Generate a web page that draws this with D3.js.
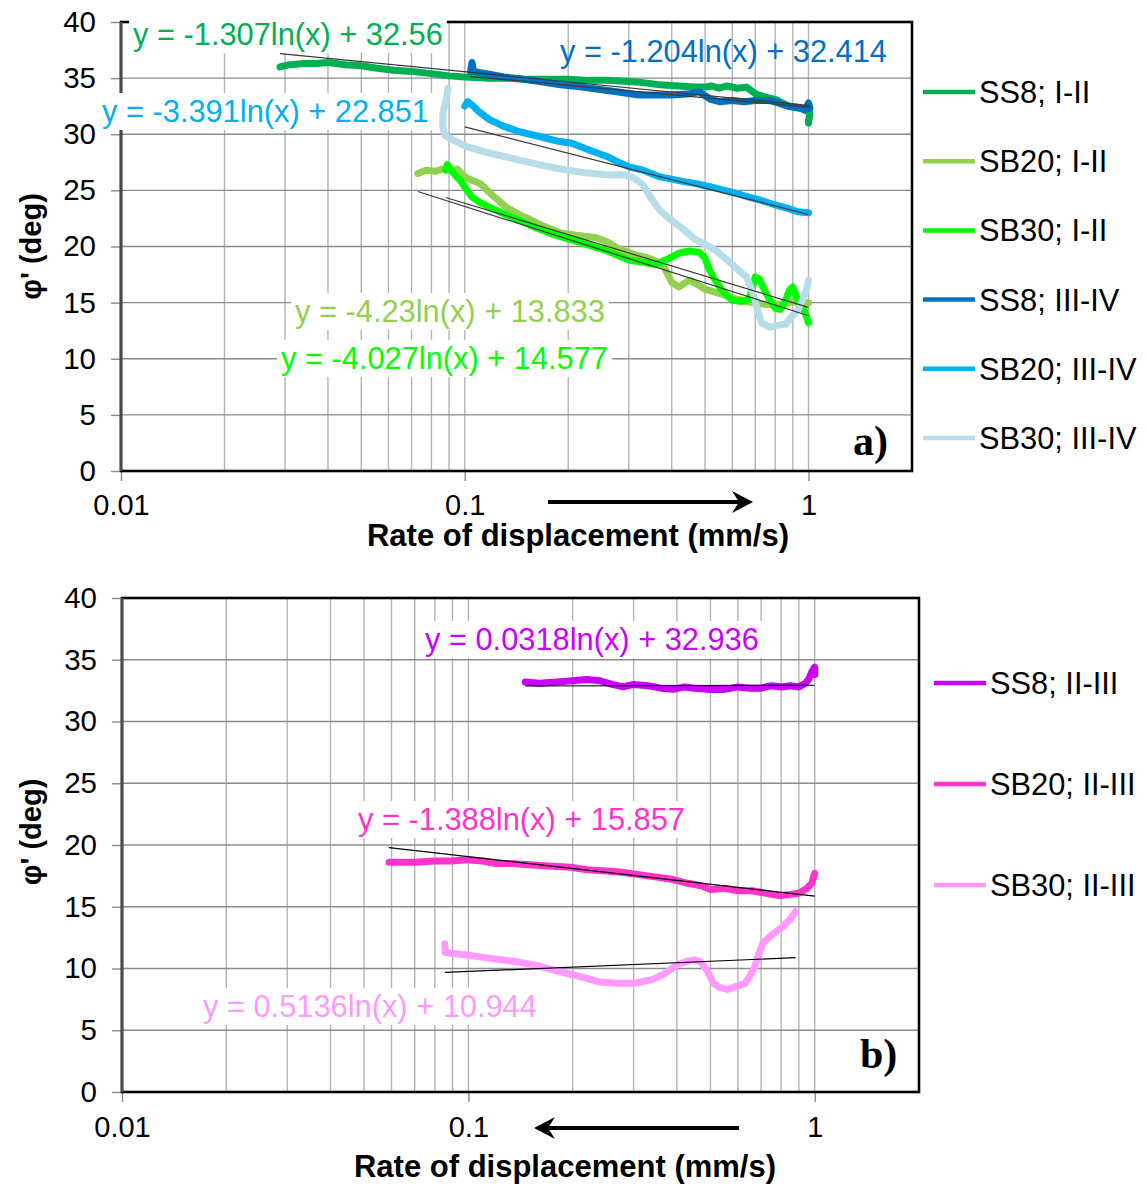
<!DOCTYPE html>
<html>
<head>
<meta charset="utf-8">
<script src="https://cdn.jsdelivr.net/npm/d3@7"></script>
<style>
  body { margin: 0; background: #fff; }
</style>
</head>
<body>
<svg id="chart" width="1147" height="1187"></svg>
<script>
// ---------- axis values ----------
const rateTicks = [0.01, 0.1, 1];
const phiTicks = [0, 5, 10, 15, 20, 25, 30, 35, 40];

// ---------- panel a: stages I-II and III-IV ----------
const namesA = ["SS8; I-II", "SB20; I-II", "SB30; I-II", "SS8; III-IV", "SB20; III-IV", "SB30; III-IV"];
const colorsA = ["#00b050", "#92d050", "#00ff00", "#0070c0", "#00b0f0", "#b7dee8"];

const ss8_I_II = [[0.029,36.0],[0.031,36.2],[0.034,36.3],[0.037,36.3],[0.04,36.4],[0.045,36.2],[0.05,36.1],[0.055,35.9],[0.062,35.7],[0.07,35.6],[0.08,35.4],[0.09,35.2],[0.1,35.1],[0.115,35.0],[0.13,35.0],[0.15,34.9],[0.17,34.9],[0.2,34.9],[0.23,34.8],[0.26,34.8],[0.3,34.7],[0.33,34.6],[0.37,34.4],[0.42,34.3],[0.47,34.2],[0.5,34.2],[0.52,34.3],[0.55,34.1],[0.58,34.3],[0.62,34.1],[0.66,34.2],[0.7,33.6],[0.75,33.3],[0.8,33.1],[0.85,32.7],[0.9,32.4],[0.95,32.3],[0.98,32.1],[1.0,32.5],[1.01,31.8],[1.0,31.2],[1.0,31.0]];
const sb20_I_II = [[0.073,26.5],[0.077,26.8],[0.082,26.7],[0.086,26.9],[0.089,27.0],[0.092,26.7],[0.095,26.9],[0.1,26.2],[0.105,25.9],[0.111,25.6],[0.12,24.6],[0.132,23.5],[0.145,22.8],[0.155,22.4],[0.17,21.8],[0.19,21.2],[0.21,21.0],[0.24,20.8],[0.26,20.4],[0.28,19.8],[0.31,19.3],[0.34,19.0],[0.36,18.7],[0.38,18.2],[0.4,16.8],[0.42,16.4],[0.45,17.0],[0.47,16.7],[0.5,16.2],[0.54,15.9],[0.58,15.6],[0.62,15.3],[0.66,15.1],[0.72,14.9],[0.78,14.8],[0.84,14.9],[0.9,15.1],[0.95,15.0],[1.0,15.0]];
const sb30_I_II = [[0.088,26.8],[0.089,27.3],[0.091,26.9],[0.094,26.3],[0.097,25.9],[0.1,25.3],[0.105,24.4],[0.111,23.9],[0.118,23.5],[0.13,22.9],[0.145,22.3],[0.155,21.9],[0.18,21.1],[0.22,20.3],[0.26,19.6],[0.3,18.8],[0.33,18.6],[0.36,18.4],[0.39,18.9],[0.42,19.4],[0.45,19.6],[0.48,19.5],[0.5,19.0],[0.51,18.2],[0.53,17.2],[0.56,16.1],[0.6,15.2],[0.64,15.1],[0.67,15.3],[0.69,16.5],[0.7,17.3],[0.72,17.1],[0.74,16.3],[0.76,15.6],[0.8,14.5],[0.83,14.4],[0.86,15.3],[0.88,16.1],[0.9,16.4],[0.92,15.6],[0.94,14.7],[0.97,14.4],[0.99,13.6],[1.0,13.2]];
const ss8_III_IV = [[0.104,35.6],[0.105,36.4],[0.106,35.6],[0.11,35.5],[0.12,35.3],[0.13,35.1],[0.14,35.0],[0.165,34.7],[0.19,34.4],[0.22,34.2],[0.26,33.9],[0.29,33.7],[0.32,33.5],[0.36,33.5],[0.4,33.5],[0.45,33.6],[0.48,33.8],[0.52,33.1],[0.55,32.9],[0.6,33.0],[0.65,32.9],[0.7,33.0],[0.78,33.0],[0.87,32.5],[0.93,32.4],[0.98,32.2],[1.0,32.8],[1.01,32.3]];
const sb20_III_IV = [[0.1,32.5],[0.102,32.9],[0.105,32.6],[0.11,32.0],[0.118,31.3],[0.13,30.7],[0.145,30.2],[0.165,29.8],[0.185,29.4],[0.205,29.2],[0.23,28.6],[0.26,28.0],[0.28,27.5],[0.3,27.1],[0.33,26.8],[0.37,26.2],[0.4,26.0],[0.43,25.8],[0.47,25.6],[0.52,25.3],[0.57,25.0],[0.62,24.7],[0.67,24.4],[0.73,24.1],[0.8,23.7],[0.87,23.4],[0.93,23.1],[1.0,23.0]];
const sb30_III_IV = [[0.0893,34.1],[0.0885,33.2],[0.0865,32.0],[0.0862,30.8],[0.0875,29.9],[0.0923,29.5],[0.1013,28.9],[0.115,28.4],[0.144,27.7],[0.17,27.2],[0.19,26.9],[0.22,26.6],[0.26,26.4],[0.29,26.4],[0.31,26.1],[0.33,25.5],[0.35,24.2],[0.37,23.2],[0.4,22.3],[0.43,21.6],[0.47,20.6],[0.5,20.2],[0.54,19.6],[0.58,18.8],[0.62,18.0],[0.66,17.3],[0.69,15.8],[0.71,14.4],[0.73,13.2],[0.77,12.8],[0.82,13.0],[0.86,13.1],[0.89,13.7],[0.93,14.3],[0.96,15.2],[0.99,16.3],[1.0,17.0]];

// logarithmic trendlines y = a ln(x) + b (null = no fit shown)
const slopeA = [-1.307, -4.23, -4.027, -1.204, -3.391, null];
const interceptA = [32.56, 13.833, 14.577, 32.414, 22.851, null];

// ---------- panel b: stage II-III ----------
const namesB = ["SS8; II-III", "SB20; II-III", "SB30; II-III"];
const colorsB = ["#cc00ff", "#ff33cc", "#ff99ff"];

const ss8_II_III = [[0.146,33.2],[0.16,33.1],[0.18,33.2],[0.2,33.3],[0.22,33.4],[0.24,33.3],[0.26,33.0],[0.28,32.8],[0.3,33.0],[0.33,32.9],[0.36,32.7],[0.39,32.6],[0.42,32.8],[0.45,32.7],[0.5,32.6],[0.55,32.6],[0.6,32.8],[0.65,32.7],[0.7,32.7],[0.75,32.9],[0.8,32.8],[0.85,32.9],[0.9,32.8],[0.94,33.1],[0.96,33.4],[0.98,34.0],[1.0,34.4],[1.0,33.8]];
const sb20_II_III = [[0.059,18.6],[0.07,18.6],[0.08,18.7],[0.09,18.7],[0.098,18.8],[0.11,18.7],[0.12,18.5],[0.133,18.5],[0.15,18.4],[0.17,18.3],[0.197,18.2],[0.22,18.0],[0.25,17.9],[0.277,17.8],[0.31,17.6],[0.35,17.4],[0.39,17.2],[0.43,16.9],[0.47,16.7],[0.5,16.4],[0.55,16.5],[0.6,16.3],[0.66,16.3],[0.72,16.1],[0.79,15.9],[0.85,16.0],[0.9,16.1],[0.95,16.5],[0.98,16.9],[1.0,17.7]];
const sb30_II_III = [[0.0855,12.0],[0.0858,11.3],[0.092,11.2],[0.099,11.1],[0.11,10.9],[0.125,10.7],[0.141,10.5],[0.16,10.2],[0.18,9.8],[0.2,9.5],[0.22,9.2],[0.24,8.9],[0.27,8.8],[0.3,8.8],[0.34,9.1],[0.37,9.6],[0.4,10.3],[0.43,10.6],[0.45,10.7],[0.47,10.5],[0.49,9.8],[0.51,8.8],[0.53,8.5],[0.56,8.3],[0.6,8.6],[0.63,8.8],[0.65,9.4],[0.67,10.1],[0.69,11.2],[0.71,12.1],[0.75,12.7],[0.81,13.4],[0.85,14.0],[0.88,14.6]];

const slopeB = [0.0318, -1.388, 0.5136];
const interceptB = [32.936, 15.857, 10.944];

// ---------- drawing ----------
const SANS = "'Liberation Sans', Arial, sans-serif";
const SERIF = "'Liberation Serif', 'Times New Roman', serif";
const svg = d3.select("#chart");

function drawPanel(cfg) {
  const g = svg.append("g");
  const x = d3.scaleLog().domain([0.01, 2]).range([cfg.left, cfg.right]);
  const y = d3.scaleLinear().domain([0, 40]).range([cfg.bottom, cfg.top]);

  // gridlines: vertical at every log subdivision, horizontal at every 5 deg
  g.append("g").selectAll("line")
    .data(x.ticks().filter(v => v > 0.0101 && v < 1.99))
    .join("line")
    .attr("x1", d => x(d)).attr("x2", d => x(d))
    .attr("y1", cfg.top).attr("y2", cfg.bottom)
    .attr("stroke", "#b4b4b4").attr("stroke-width", 1.4);
  g.append("g").selectAll("line")
    .data(phiTicks.filter(v => v > 0 && v < 40))
    .join("line")
    .attr("x1", cfg.left).attr("x2", cfg.right)
    .attr("y1", d => y(d)).attr("y2", d => y(d))
    .attr("stroke", "#8c8c8c").attr("stroke-width", 1.4);

  // y axis ticks and labels
  const ya = g.append("g").attr("transform", `translate(${cfg.left},0)`)
    .call(d3.axisLeft(y).tickValues(phiTicks).tickSize(10).tickPadding(15));
  ya.select(".domain").remove();
  ya.selectAll(".tick line").attr("stroke", "#8c8c8c").attr("stroke-width", 1.4);
  ya.attr("font-size", 29.5).attr("font-family", SANS);
  ya.selectAll("text").attr("fill", "#000");

  // x axis ticks and labels
  const xa = g.append("g").attr("transform", `translate(0,${cfg.bottom})`)
    .call(d3.axisBottom(x).tickValues(rateTicks).tickFormat(d => String(d)).tickSize(10).tickPadding(cfg.xPad));
  xa.select(".domain").remove();
  xa.selectAll(".tick line").attr("stroke", "#8c8c8c").attr("stroke-width", 1.4);
  xa.attr("font-size", 29).attr("font-family", SANS);
  xa.selectAll("text").attr("fill", "#000");

  // plot frame
  g.append("rect")
    .attr("x", cfg.left).attr("y", cfg.top)
    .attr("width", cfg.right - cfg.left).attr("height", cfg.bottom - cfg.top)
    .attr("fill", "none").attr("stroke", "#000").attr("stroke-width", 2.6);
  g.append("line")
    .attr("x1", cfg.left).attr("x2", cfg.left).attr("y1", cfg.top).attr("y2", cfg.bottom)
    .attr("stroke", "#4a4a4a").attr("stroke-width", 2.6);

  // measured curves
  const line = d3.line().x(d => x(d[0])).y(d => y(d[1]));
  cfg.series.forEach((s, i) => {
    g.append("path").datum(s)
      .attr("d", line)
      .attr("fill", "none")
      .attr("stroke", cfg.colors[i])
      .attr("stroke-width", 7)
      .attr("stroke-linejoin", "round")
      .attr("stroke-linecap", "round");
  });

  // logarithmic trendlines (straight on a log axis) over each curve's range
  cfg.series.forEach((s, i) => {
    const a = cfg.slopes[i], b = cfg.intercepts[i];
    if (a === null) return;
    const [x0, x1] = d3.extent(s, d => d[0]);
    const ends = [x0, x1].map(v => [v, a * Math.log(v) + b]);
    g.append("path").datum(ends)
      .attr("d", line)
      .attr("fill", "none")
      .attr("stroke", cfg.trendColor)
      .attr("stroke-width", 1.2);
  });

  // equation labels
  cfg.labels.forEach(lb => {
    const i = lb.series;
    const a = cfg.slopes[i], b = cfg.intercepts[i];
    const lg = g.append("g");
    const t = lg.append("text")
      .attr("x", lb.x).attr("y", lb.y)
      .attr("font-family", SANS).attr("font-size", 30.8)
      .attr("fill", cfg.colors[i])
      .text(`y = ${a}ln(x) + ${b}`);
    if (lb.box) {
      const bb = t.node().getBBox();
      lg.insert("rect", "text")
        .attr("x", bb.x - 4).attr("y", bb.y - 1)
        .attr("width", bb.width + 8).attr("height", bb.height + 2)
        .attr("fill", "#fff");
    }
  });

  // legend
  const lgd = g.append("g");
  cfg.names.forEach((n, i) => {
    const ly = cfg.legend.y0 + i * cfg.legend.step;
    lgd.append("line")
      .attr("x1", cfg.legend.x).attr("x2", cfg.legend.x + 52)
      .attr("y1", ly).attr("y2", ly)
      .attr("stroke", cfg.colors[i]).attr("stroke-width", 4.5);
    lgd.append("text")
      .attr("x", cfg.legend.x + 56).attr("y", ly + 11)
      .attr("font-family", SANS).attr("font-size", 30.8).attr("fill", "#000")
      .text(n);
  });

  // axis titles
  g.append("text")
    .attr("transform", `translate(${cfg.yTitle.x},${(cfg.top + cfg.bottom) / 2 + cfg.yTitle.dy}) rotate(-90)`)
    .attr("text-anchor", "middle")
    .attr("font-family", SANS).attr("font-size", 29).attr("font-weight", "bold")
    .text("φ' (deg)");
  g.append("text")
    .attr("x", cfg.xTitle.x).attr("y", cfg.xTitle.y)
    .attr("text-anchor", "middle")
    .attr("font-family", SANS).attr("font-size", 31).attr("font-weight", "bold")
    .text("Rate of displacement (mm/s)");

  // direction of the rate change
  const ar = cfg.arrow;
  const dir = Math.sign(ar.x2 - ar.x1);
  g.append("line")
    .attr("x1", ar.x1).attr("x2", ar.x2 - dir * 8)
    .attr("y1", ar.y).attr("y2", ar.y)
    .attr("stroke", "#000").attr("stroke-width", 4);
  g.append("path")
    .attr("d", `M${ar.x2},${ar.y} L${ar.x2 - dir * 21},${ar.y - 11} L${ar.x2 - dir * 14},${ar.y} L${ar.x2 - dir * 21},${ar.y + 11} Z`)
    .attr("fill", "#000");

  // panel tag
  g.append("text")
    .attr("x", cfg.tag.x).attr("y", cfg.tag.y)
    .attr("font-family", SERIF).attr("font-size", 42).attr("font-weight", "bold")
    .text(cfg.tag.text);
}

drawPanel({
  left: 121, right: 912, top: 22, bottom: 471,
  series: [ss8_I_II, sb20_I_II, sb30_I_II, ss8_III_IV, sb20_III_IV, sb30_III_IV],
  names: namesA, colors: colorsA,
  slopes: slopeA, intercepts: interceptA, trendColor: "#3a3a3a",
  labels: [
    { series: 0, x: 133, y: 45, box: true },
    { series: 3, x: 560, y: 62, box: false },
    { series: 4, x: 102, y: 122, box: true },
    { series: 1, x: 295, y: 322, box: true },
    { series: 2, x: 281, y: 369, box: true }
  ],
  legend: { x: 923, y0: 92, step: 69.2 },
  xPad: 13,
  yTitle: { x: 41, dy: 0 },
  xTitle: { x: 578, y: 546 },
  arrow: { x1: 548, x2: 753, y: 502 },
  tag: { x: 853, y: 455, text: "a)" }
});

drawPanel({
  left: 122, right: 919, top: 598, bottom: 1092,
  series: [ss8_II_III, sb20_II_III, sb30_II_III],
  names: namesB, colors: colorsB,
  slopes: slopeB, intercepts: interceptB, trendColor: "#000",
  labels: [
    { series: 0, x: 425, y: 650, box: true },
    { series: 1, x: 358, y: 830, box: true },
    { series: 2, x: 203, y: 1017, box: true }
  ],
  legend: { x: 934, y0: 683, step: 101 },
  xPad: 14,
  yTitle: { x: 41, dy: -13 },
  xTitle: { x: 565, y: 1177 },
  arrow: { x1: 739, x2: 534, y: 1128 },
  tag: { x: 860, y: 1068, text: "b)" }
});
</script>
</body>
</html>
